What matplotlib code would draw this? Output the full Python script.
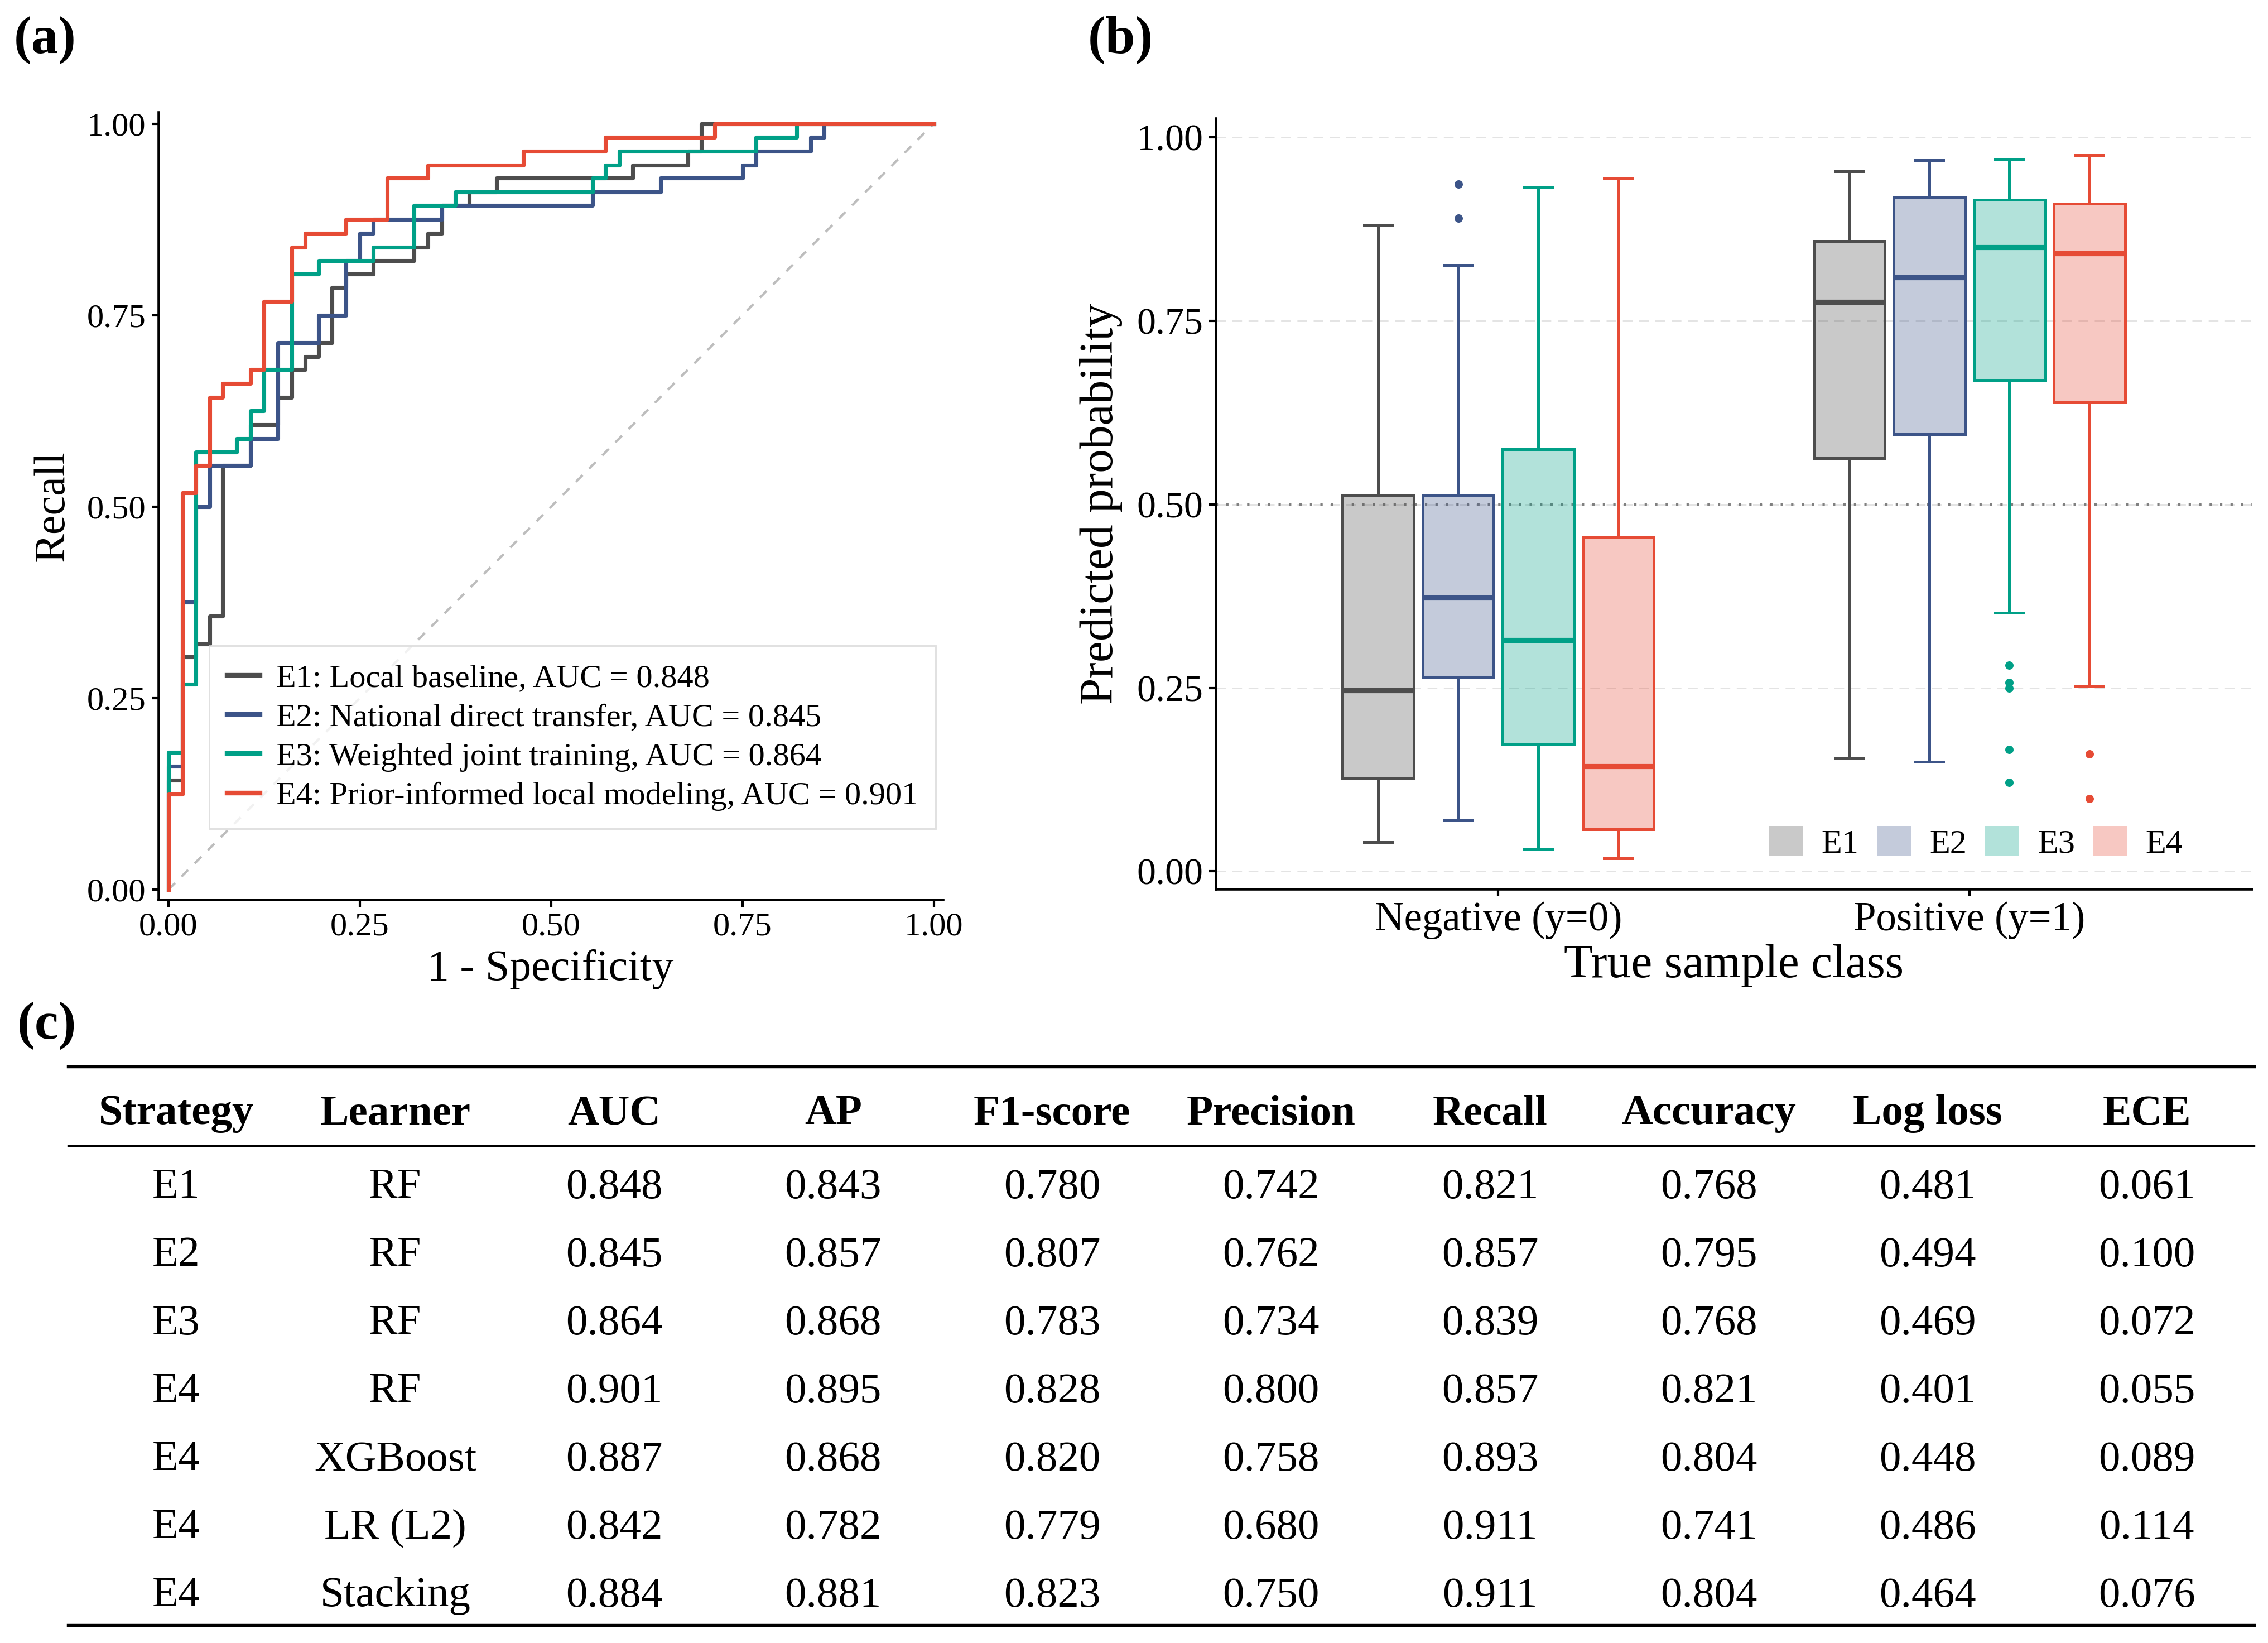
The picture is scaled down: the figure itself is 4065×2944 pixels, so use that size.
import numpy as np
import matplotlib
matplotlib.use('Agg')
import matplotlib.pyplot as plt
from matplotlib.patches import Patch

plt.rcParams['font.family'] = ['Liberation Serif', 'DejaVu Serif']

# ---- data ----
strategies = ['E1', 'E2', 'E3', 'E4']
roc_labels = ['E1: Local baseline, AUC = 0.848',
              'E2: National direct transfer, AUC = 0.845',
              'E3: Weighted joint training, AUC = 0.864',
              'E4: Prior-informed local modeling, AUC = 0.901']
line_colors = ['#4D4D4D', '#3C5488', '#00A087', '#E64B35']

# ROC corner points (fpr, recall reached at that fpr)
fpr_e1 = [0, 0, 0.018, 0.036, 0.054, 0.071, 0.107, 0.143, 0.161, 0.179, 0.196, 0.214,
          0.232, 0.268, 0.321, 0.339, 0.357, 0.393, 0.429, 0.607, 0.679, 0.696, 1.0]
tpr_e1 = [0, 0.143, 0.304, 0.321, 0.357, 0.554, 0.607, 0.643, 0.679, 0.696, 0.714, 0.786,
          0.804, 0.821, 0.839, 0.857, 0.893, 0.911, 0.929, 0.946, 0.964, 1.0, 1.0]
fpr_e2 = [0, 0, 0.018, 0.036, 0.054, 0.107, 0.143, 0.196, 0.232, 0.25, 0.268, 0.357,
          0.554, 0.643, 0.75, 0.768, 0.839, 0.857, 1.0]
tpr_e2 = [0, 0.161, 0.375, 0.5, 0.554, 0.589, 0.714, 0.75, 0.821, 0.857, 0.875, 0.893,
          0.911, 0.929, 0.946, 0.964, 0.982, 1.0, 1.0]
fpr_e3 = [0, 0, 0.018, 0.036, 0.089, 0.107, 0.125, 0.161, 0.196, 0.268, 0.321, 0.375,
          0.554, 0.571, 0.589, 0.768, 0.821, 1.0]
tpr_e3 = [0, 0.179, 0.268, 0.571, 0.589, 0.625, 0.679, 0.804, 0.821, 0.839, 0.893, 0.911,
          0.929, 0.946, 0.964, 0.982, 1.0, 1.0]
fpr_e4 = [0, 0, 0.018, 0.036, 0.054, 0.071, 0.107, 0.125, 0.161, 0.179, 0.232, 0.286,
          0.339, 0.464, 0.571, 0.714, 1.0]
tpr_e4 = [0, 0.125, 0.518, 0.554, 0.643, 0.661, 0.679, 0.768, 0.839, 0.857, 0.875, 0.929,
          0.946, 0.964, 0.982, 1.0, 1.0]
roc_fpr = [fpr_e1, fpr_e2, fpr_e3, fpr_e4]
roc_tpr = [tpr_e1, tpr_e2, tpr_e3, tpr_e4]

# box plot summaries: [whislo, q1, med, q3, whishi]
classes = ['Negative (y=0)', 'Positive (y=1)']
neg_stats = [[0.040, 0.127, 0.247, 0.513, 0.880],
             [0.070, 0.264, 0.373, 0.513, 0.826],
             [0.031, 0.174, 0.315, 0.575, 0.932],
             [0.018, 0.057, 0.143, 0.456, 0.944]]
pos_stats = [[0.155, 0.563, 0.776, 0.859, 0.954],
             [0.149, 0.596, 0.809, 0.918, 0.969],
             [0.352, 0.669, 0.850, 0.915, 0.970],
             [0.253, 0.639, 0.842, 0.910, 0.976]]
neg_fliers = [[], [0.890, 0.936], [], []]
pos_fliers = [[], [], [0.281, 0.257, 0.250, 0.166, 0.121], [0.160, 0.099]]

# table (c)
table_cols = ['Strategy', 'Learner', 'AUC', 'AP', 'F1-score', 'Precision',
              'Recall', 'Accuracy', 'Log loss', 'ECE']
tab_strategy = ['E1', 'E2', 'E3', 'E4', 'E4', 'E4', 'E4']
tab_learner = ['RF', 'RF', 'RF', 'RF', 'XGBoost', 'LR (L2)', 'Stacking']
tab_auc = ['0.848', '0.845', '0.864', '0.901', '0.887', '0.842', '0.884']
tab_ap = ['0.843', '0.857', '0.868', '0.895', '0.868', '0.782', '0.881']
tab_f1 = ['0.780', '0.807', '0.783', '0.828', '0.820', '0.779', '0.823']
tab_prec = ['0.742', '0.762', '0.734', '0.800', '0.758', '0.680', '0.750']
tab_recall = ['0.821', '0.857', '0.839', '0.857', '0.893', '0.911', '0.911']
tab_acc = ['0.768', '0.795', '0.768', '0.821', '0.804', '0.741', '0.804']
tab_logloss = ['0.481', '0.494', '0.469', '0.401', '0.448', '0.486', '0.464']
tab_ece = ['0.061', '0.100', '0.072', '0.055', '0.089', '0.114', '0.076']

W, H = 4065, 2944
fig = plt.figure(figsize=(W / 300, H / 300), dpi=300)

def frac(x0, y0, x1, y1):
    # pixel box (top-left origin) -> figure fraction rect
    return [x0 / W, 1 - y1 / H, (x1 - x0) / W, (y1 - y0) / H]

# ---- (a) ROC ----
ax = fig.add_axes(frac(284, 201, 1690, 1612))
ax.plot([0, 1], [0, 1], ls=(0, (4, 4)), color='#BDBDBD', lw=1.0, zorder=1)
for fx, ty, c, lab in zip(roc_fpr, roc_tpr, line_colors, roc_labels):
    ax.plot(fx, ty, drawstyle='steps-post', color=c, lw=1.7, label=lab, zorder=2)
ax.set_xlim(-0.013, 1.012)
ax.set_ylim(-0.013, 1.015)
ticks = [0, 0.25, 0.5, 0.75, 1.0]
ax.set_xticks(ticks)
ax.set_yticks(ticks)
ax.set_xticklabels(['%.2f' % t for t in ticks])
ax.set_yticklabels(['%.2f' % t for t in ticks])
ax.tick_params(labelsize=14.5, length=3, width=1, pad=2.5, colors='black')
for s in ['top', 'right']:
    ax.spines[s].set_visible(False)
for s in ['left', 'bottom']:
    ax.spines[s].set_linewidth(1.1)
ax.set_xlabel('1 - Specificity', fontsize=18.7, labelpad=3)
ax.set_ylabel('Recall', fontsize=18.7, labelpad=6)
leg = ax.legend(loc='lower left', bbox_to_anchor=(0.065, 0.09), borderaxespad=0,
                fontsize=14.0, frameon=True, fancybox=False, handlelength=1.0,
                handletextpad=0.5, labelspacing=0.3, borderpad=0.55)
leg.get_frame().set_edgecolor('#D9D9D9')
leg.get_frame().set_linewidth(0.7)
for l in leg.get_lines():
    l.set_linewidth(2.0)

# ---- (b) box plots ----
bx = fig.add_axes(frac(2179, 212, 4036, 1593))
bx.set_ylim(-0.024, 1.026)
bx.set_xlim(0.4, 2.6)
for t in ticks:
    bx.axhline(t, color='#E3E3E3', lw=0.7, ls=(0, (6, 4)), zorder=0)
bx.axhline(0.5, color='#808080', lw=1.0, ls=(0, (1, 3.5)), zorder=1)
offsets = np.array([-1.5, -0.5, 0.5, 1.5]) * 0.17
for gi, (stats_g, fliers_g) in enumerate([(neg_stats, neg_fliers), (pos_stats, pos_fliers)]):
    for ei in range(4):
        s = stats_g[ei]
        st = dict(whislo=s[0], q1=s[1], med=s[2], q3=s[3], whishi=s[4], fliers=fliers_g[ei])
        c = line_colors[ei]
        bx.bxp([st], positions=[gi + 1 + offsets[ei]], widths=0.151, capwidths=0.06,
               patch_artist=True, showfliers=True,
               boxprops=dict(facecolor=c, edgecolor=c, lw=1.2),
               medianprops=dict(color=c, lw=2.2),
               whiskerprops=dict(color=c, lw=1.2),
               capprops=dict(color=c, lw=1.2),
               flierprops=dict(marker='o', markerfacecolor=c, markeredgecolor='none',
                               markersize=3.6),
               manage_ticks=False, zorder=3)
# lighten box fill (alpha on face only)
for p in bx.patches:
    fc = p.get_facecolor()
    p.set_facecolor((fc[0], fc[1], fc[2], 0.3))
bx.set_xticks([1, 2])
bx.set_xticklabels(classes)
bx.set_yticks(ticks)
bx.set_yticklabels(['%.2f' % t for t in ticks])
bx.tick_params(axis='y', labelsize=16.3, length=3, width=1, pad=2.5)
bx.tick_params(axis='x', labelsize=17.5, length=3, width=1, pad=2.5)
for s in ['top', 'right']:
    bx.spines[s].set_visible(False)
for s in ['left', 'bottom']:
    bx.spines[s].set_linewidth(1.1)
bx.set_xlabel('True sample class', fontsize=20.5, labelpad=2)
bx.set_ylabel('Predicted probability', fontsize=20.5, labelpad=6)
handles = [Patch(facecolor=c, alpha=0.3, edgecolor='none') for c in line_colors]
bx.legend(handles, strategies, loc='center left', bbox_to_anchor=(0.534, 0.06),
          ncol=4, frameon=False, fontsize=14.5, handlelength=1.0, handleheight=1.0,
          handletextpad=0.55, columnspacing=0.55, borderaxespad=0, borderpad=0)

# ---- (c) table ----
tx = fig.add_axes([0, 0, 1, 1])
tx.set_xlim(0, W)
tx.set_ylim(H, 0)
tx.axis('off')
tx.patch.set_visible(False)
rule_x = [122, 4040]
tx.plot(rule_x, [1911, 1911], color='black', lw=1.3)
tx.plot(rule_x, [2053, 2053], color='black', lw=0.8)
tx.plot(rule_x, [2912, 2912], color='black', lw=1.3)
col_x = 316 + np.arange(len(table_cols)) * 392.4
header_y = 1996
row_y = 2128 + np.arange(len(tab_strategy)) * 122
for cx, name in zip(col_x, table_cols):
    tx.text(cx, header_y, name, ha='center', va='center', fontsize=18.5, fontweight='bold')
columns = [tab_strategy, tab_learner, tab_auc, tab_ap, tab_f1, tab_prec,
           tab_recall, tab_acc, tab_logloss, tab_ece]
for cx, col in zip(col_x, columns):
    for ry, val in zip(row_y, col):
        tx.text(cx, ry, val, ha='center', va='center', fontsize=18.5)

# panel labels
tx.text(25, 72, '(a)', ha='left', va='center', fontsize=23, fontweight='bold')
tx.text(1950, 72, '(b)', ha='left', va='center', fontsize=23, fontweight='bold')
tx.text(31, 1838, '(c)', ha='left', va='center', fontsize=23, fontweight='bold')

fig.savefig('out.png', dpi=300, facecolor='white')
